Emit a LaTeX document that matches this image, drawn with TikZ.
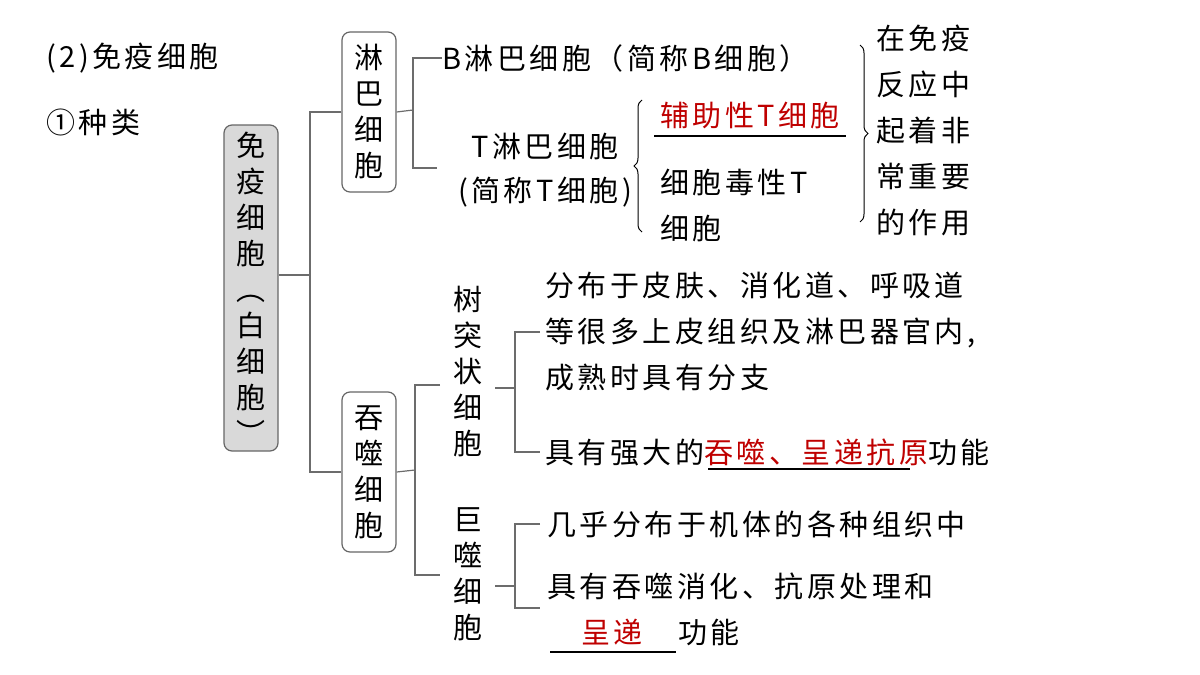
\documentclass[tikz,border=0pt]{standalone}
\usepackage{fontspec}
\setmainfont{Liberation Serif}
\newfontfamily\cjk{Noto Sans CJK SC}[LetterSpace=12]
\usetikzlibrary{decorations.pathreplacing}
\begin{document}
\begin{tikzpicture}[x=1pt,y=-1pt,
  txt/.style={font=\fontsize{29}{46}\selectfont\cjk,inner sep=0pt},
  vt/.style={txt,align=center,font=\fontsize{29}{36}\selectfont\cjk},
  ln/.style={draw=gray!85!black,line width=1.2pt},
  bx/.style={vt,draw=gray!80!black,line width=1.2pt,rounded corners=8pt,minimum width=54pt,inner sep=4pt},
  br/.style={draw=black,line width=1pt,decorate,decoration={brace,amplitude=8pt}},
  red/.style={text=red!75!black}]
\useasboundingbox (0,0) rectangle (1200,675);
\node[txt,anchor=west] (h1) at (46,58) {(2)免疫细胞};
\node[txt,anchor=west] (h2) at (46,122) {①种类};
\node[bx,fill=gray!30,minimum height=326pt] (imm) at (251,288) {免\\疫\\细\\胞\\︵\\白\\细\\胞\\︶};
\node[bx,minimum height=160pt] (lin) at (369,112) {淋\\巴\\细\\胞};
\node[bx,minimum height=160pt] (tun) at (369,472) {吞\\噬\\细\\胞};
\coordinate (j1) at (310,275);
\draw[ln] (imm.east|-j1) -- (j1);
\draw[ln] (lin.west) -| (j1) |- (tun.west);
% lymph
\node[txt,anchor=west] (b) at (442,58) {B淋巴细胞（简称B细胞）};
\node[txt,align=center,font=\fontsize{29}{44}\selectfont\cjk] (t) at (545,170) {T淋巴细胞\\(简称T细胞)};
\coordinate (j2) at (413,110);
\draw[ln] (lin.east) -- (j2);
\draw[ln] (b.west) -| (j2) |- (437,168) coordinate (tend);
\draw[br] (642,232) -- (642,100);
\node[txt,red] (help) at (750,115) {辅助性T细胞};
\draw[line width=1.5pt] (654,136) -- (846,136);
\node[txt,anchor=west,align=left] (cyt) at (660,205) {细胞毒性T\\细胞};
\draw[br] (860,45) -- (860,222);
\node[txt,anchor=west,align=left] (role) at (876,130) {在免疫\\反应中\\起着非\\常重要\\的作用};
% phagocytes
\coordinate (j3) at (415,470);
\draw[ln] (tun.east) -- (j3);
\draw[ln] (440,385) -| (j3) |- (440,575);
\node[vt] (den) at (468,372) {树\\突\\状\\细\\胞};
\node[vt] (mac) at (468,574) {巨\\噬\\细\\胞};
\coordinate (j4) at (515,388);
\draw[ln] (495,388) -- (j4);
\draw[ln] (540,332) -| (j4) |- (540,452);
\node[txt,anchor=west,align=left] (d1) at (545,332) {分布于皮肤、消化道、呼吸道\\等很多上皮组织及淋巴器官内,\\成熟时具有分支};
\node[txt,anchor=west] (d2) at (545,452) {具有强大的\textcolor{red!75!black}{吞噬、呈递抗原}功能};
\draw[line width=1.2pt] (708,469) -- (910,469);
\coordinate (j5) at (515,586);
\draw[ln] (495,586) -- (j5);
\draw[ln] (540,524) -| (j5) |- (540,608);
\node[txt,anchor=west] (m1) at (547,524) {几乎分布于机体的各种组织中};
\node[txt,anchor=west] (m2) at (547,586) {具有吞噬消化、抗原处理和};
\node[txt,red] (m3) at (612,632) {呈递};
\node[txt,anchor=west] (m4) at (678,632) {功能};
\draw[line width=1.2pt] (550,652) -- (676,652);
\end{tikzpicture}
\end{document}
